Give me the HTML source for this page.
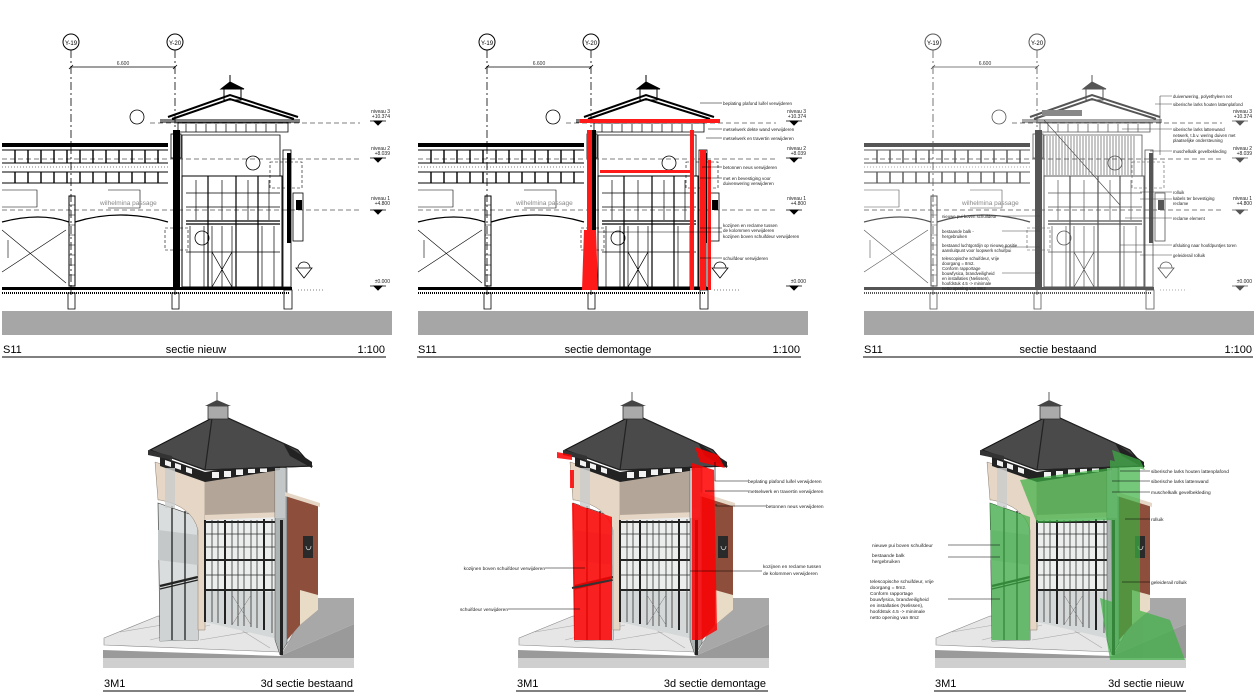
<!DOCTYPE html>
<html><head><meta charset="utf-8"><style>
html,body{margin:0;padding:0;background:#fff}
svg{display:block}
text{font-family:"Liberation Sans",sans-serif}
</style></head><body>
<svg width="1256" height="695" viewBox="0 0 1256 695" xmlns="http://www.w3.org/2000/svg">
<defs>
<g id="sec" fill="none" stroke="currentColor">
  <circle cx="71" cy="42" r="8" stroke-width="1"/>
  <circle cx="175" cy="42" r="8" stroke-width="1"/>
  <path d="M71 50V295M175 50V295" stroke-width="0.8" stroke-dasharray="8 3 2 3"/>
  <path d="M71 67H175M69 69L73 65M173 69L177 65" stroke-width="0.8"/>
  <path d="M150 123H360M2 159H360M2 210H360" stroke-width="0.7" stroke-dasharray="5 3" stroke="#555"/>
  <path d="M370 121H386M370 158H386M370 210H386M370 286H386" stroke-width="0.8"/>
  <path d="M374 121L382 121L378 125ZM374 158L382 158L378 162ZM374 210L382 210L378 214ZM374 286L382 286L378 290Z" fill="currentColor"/>
  <rect x="2" y="143" width="166" height="4" fill="currentColor" stroke="none"/>
  <path d="M2 150H168M2 163H168M2 172H168M2 183H168" stroke-width="1"/>
  <path d="M2 167H168" stroke-width="0.6" stroke-dasharray="1 2"/>
  <path d="M15 150V163M28 150V163M41 150V163M54 150V163M67 150V163M80 150V163M93 150V163M106 150V163M119 150V163M132 150V163M145 150V163M158 150V163M15 172V183M28 172V183M41 172V183M54 172V183M67 172V183M80 172V183M93 172V183M106 172V183M119 172V183M132 172V183M145 172V183M158 172V183" stroke-width="1.4"/>
  <rect x="69" y="196" width="6" height="90" stroke-width="1"/>
  <path d="M69 205H75M69 215H75M69 225H75M69 235H75M69 245H75M69 255H75M69 265H75M69 275H75" stroke-width="0.6"/>
  <path d="M2 222Q40 212 69 222M75 222Q120 208 168 222" stroke-width="1.3"/>
  <path d="M2 230L66 283M2 272L66 230M8 240V258M2 190H37V207H2M108 190H140V208H108" stroke-width="0.6"/>
  <rect x="2" y="287" width="290" height="3" fill="currentColor" stroke="none"/>
  <path d="M2 293H290" stroke-width="2" stroke-dasharray="1 1"/>
  <path d="M68 293h7v16h-7zM172 293h7v16h-7zM284 290h8v19h-8z" stroke-width="0.8"/>
  <path d="M298 290H325" stroke-width="0.6" stroke-dasharray="1 2"/>
  <rect x="173" y="130" width="7" height="157" fill="currentColor" stroke="none"/>
  <rect x="171" y="134" width="10" height="24" stroke-width="0.8"/>
  <rect x="283" y="150" width="8" height="137" stroke-width="0.8"/>
  <rect x="287" y="153" width="4" height="90" fill="currentColor" stroke="none"/>
  <path d="M182 135H280V176H182Z" stroke-width="0.8"/>
  <path d="M182 176H282V287H182Z" stroke-width="1"/>
  <path d="M208 176V287M236 176V287M258 176V287M186 224H280M186 221H280" stroke-width="1.2"/>
  <path d="M196 180V220M222 180V220M248 180V220M269 180V220M186 193H280M186 207H280M190 226V287M204 226V287M212 226V287M222 226V287M232 226V287M262 226V287M274 226V287M186 252H280M212 252L232 287M232 252L212 287" stroke-width="0.7"/>
  <path d="M160 120H300M160 122H300" stroke-width="1"/>
  <path d="M178 123H288V132H178Z" stroke-width="0.8"/>
  <path d="M186 124V132M196 124V132M206 124V132M216 124V132M226 124V132M236 124V132M246 124V132M256 124V132M266 124V132M276 124V132" stroke-width="0.7"/>
  <path d="M168 117L230 95L298 117M172 119L230 99L294 119" stroke-width="2"/>
  <rect x="224" y="89" width="17" height="11" stroke-width="1"/>
  <path d="M221 89L230 82L244 89Z" fill="currentColor"/>
  <path d="M230 82V75" stroke-width="1"/>
  <rect x="293" y="193" width="10" height="48" stroke-width="0.8"/>
  <rect x="296" y="200" width="6" height="10" fill="currentColor" stroke="none"/>
  <path d="M270 162H302V188H270Z" stroke-width="0.6" stroke-dasharray="3 2"/>
  <path d="M165 228H188V250H165Z" stroke-width="0.6" stroke-dasharray="3 2"/>
  <circle cx="137" cy="117" r="7" stroke-width="0.8"/>
  <circle cx="253" cy="163" r="7" stroke-width="0.8"/>
  <circle cx="202" cy="238" r="7" stroke-width="0.8"/>
  <path d="M296 268L312 268L304 278Z M298 268A6 6 0 0 1 310 268" stroke-width="0.8"/>
</g>

<g id="bld">
  <polygon points="103,650 280,656 354,624 354,668 103,668" fill="#9a9a9a"/>
  <polygon points="103,658 354,658 354,668 103,668" fill="#cfcfcf"/>
  <polygon points="300,598 354,598 354,624 280,656 290,640" fill="#a8a8a8"/>
  <polygon points="104,638 158,616 300,618 290,640 280,652 104,645" fill="#e6e6e6" stroke="#888" stroke-width="0.6"/>
  <path d="M120 632L180 622M150 640L210 625M230 623L270 648M200 640L260 630" stroke="#aaa" stroke-width="0.6"/>
  <!-- left glass face -->
  <polygon points="158,503 198,517 198,640 160,641" fill="#dadddd" stroke="#333" stroke-width="0.6"/>
  <polygon points="158,530 198,535 198,565 158,560" fill="#c4c8c8"/>
  <polygon points="160,585 198,575 198,640 160,641" fill="#cfd3d3"/>
  <path d="M172 506V640M185 511V640M160 589L198 580" stroke="#222" stroke-width="1.3"/>
  <path d="M160 586L198 577" stroke="#222" stroke-width="2.2"/>
  <!-- beige left wall with arch -->
  <path d="M155 462L205 478L205 630L198 630L198 530Q192 506 160 500L158 500Z" fill="#e5d6c5" stroke="#8a7e70" stroke-width="0.5"/>
  <!-- front upper wall -->
  <polygon points="205,478 280,468 282,518 205,524" fill="#b3a698"/>
  <polygon points="205,515 282,512 282,518 205,523" fill="#e5d6c5"/>
  <!-- front windows -->
  <polygon points="205,520 282,517 282,640 205,622" fill="#eceeee"/>
  <polygon points="205,590 282,592 282,640 205,622" fill="#d5d8d8"/>
  <path d="M205 520V622M225 520V624M264 519V630M282 517V640M205 522H282M205 560H282M205 590H282" stroke="#222" stroke-width="2" fill="none"/>
  <path d="M212 520V622M218 520V623M232 520V625M238 520V626M244 520V626M251 520V627M257 520V628M272 519V633M205 534H282M205 547H282M205 575H282" stroke="#333" stroke-width="0.8" fill="none"/>
  <path d="M232 595L251 625M251 595L232 625" stroke="#777" stroke-width="0.5"/>
  <!-- column -->
  <polygon points="275,466 287,468 287,643 280,655 275,640" fill="#adb2b2" stroke="#444" stroke-width="0.5"/>
  <rect x="280" y="520" width="3" height="135" fill="#222"/>
  <!-- brick side -->
  <polygon points="287,495 318,505 318,610 300,625 287,640" fill="#8d4e3c"/>
  <polygon points="300,590 318,595 318,610 300,625" fill="#e8dcc6"/>
  <polygon points="285,492 320,503 320,507 285,496" fill="#e5d6c5"/>
  <rect x="303" y="536" width="10" height="22" fill="#2a2a2a"/>
  <path d="M306 546a2 3 0 1 0 5 0" stroke="#ddd" stroke-width="0.7" fill="none"/>
  <!-- clerestory -->
  <polygon points="160,456 205,472 280,460 280,470 205,482 160,466" fill="#222"/>
  <path d="M165 460l6 2v5l-6-2zM175 463l6 2v5l-6-2zM186 467l6 2v5l-6-2zM212 472h7v6h-7zM224 471h7v6h-7zM236 469h7v6h-7zM248 467h7v6h-7zM260 466h7v6h-7z" fill="#f2f2f2"/>
  <!-- roof -->
  <polygon points="150,450 212,418 228,418 298,450 312,466 205,470" fill="#4a4a4a" stroke="#111" stroke-width="1"/>
  <path d="M212 418L205 470M228 418L298 450M150 450L205 470L312 466" stroke="#222" stroke-width="1.2" fill="none"/>
  <polygon points="148,450 172,456 172,460 148,455" fill="#333"/>
  <polygon points="283,443 312,462 312,468 290,456" fill="#222"/>
  <rect x="208" y="406" width="20" height="13" fill="#aaa" stroke="#333" stroke-width="0.8"/>
  <polygon points="205,406 217,400 231,406" fill="#444"/>
  <path d="M217 400V392" stroke="#333" stroke-width="0.8"/>
  <rect x="165" y="468" width="10" height="40" fill="#c9cccc" opacity="0.8"/>
  <rect x="275" y="468" width="10" height="50" fill="#c9cccc" opacity="0.8"/>
</g>
</defs>

<use href="#sec" style="color:#000"/>
<g transform="translate(416,0)"><use href="#sec" style="color:#000"/></g>
<g transform="translate(862,0)"><use href="#sec" style="color:#555"/></g>

<rect x="2" y="311" width="390" height="24" fill="#a6a6a6"/>
<rect x="418" y="311" width="390" height="24" fill="#a6a6a6"/>
<rect x="864" y="311" width="390" height="24" fill="#a6a6a6"/>

<g fill="#ff1a1a" stroke="none">
  <rect x="580" y="119" width="140" height="4"/>
  <rect x="587" y="130" width="5" height="160"/>
  <polygon points="584,230 596,230 598,290 582,290"/>
  <rect x="690" y="130" width="4" height="160"/>
  <rect x="700" y="150" width="6" height="140"/>
  <rect x="708" y="160" width="3" height="130"/>
  <rect x="600" y="170" width="90" height="3"/>
</g>
<g stroke="#000" stroke-width="0.5" fill="none">
  <path d="M700 103H722M708 129H722M706 138H722M702 167H722M700 178H722M700 228H722M598 232H722M700 258H722"/>
</g>
<g font-size="4.5" fill="#222">
  <text x="723" y="105">beplating plafond luifel verwijderen</text>
  <text x="723" y="131">metselwerk dekte wand verwijderen</text>
  <text x="723" y="140">metselwerk en travertin verwijderen</text>
  <text x="723" y="169">betonnen neus verwijderen</text>
  <text x="723" y="180">met en bevestiging voor</text>
  <text x="723" y="185">duivenwering verwijderen</text>
  <text x="723" y="227">kozijnen en reclame tussen</text>
  <text x="723" y="232">de kolommen verwijderen</text>
  <text x="723" y="238">kozijnen boven schuifdeur verwijderen</text>
  <text x="723" y="260">schuifdeur verwijderen</text>
</g>

<g stroke="#444" stroke-width="0.6">
  <path d="M1047 136V175M1050 136V175M1053 136V175M1056 136V175M1059 136V175M1062 136V175M1065 136V175M1068 136V175M1071 136V175M1074 136V175M1077 136V175M1080 136V175M1083 136V175M1086 136V175M1089 136V175M1092 136V175M1095 136V175M1098 136V175M1101 136V175M1104 136V175M1107 136V175M1110 136V175M1113 136V175M1116 136V175M1119 136V175M1122 136V175M1125 136V175M1128 136V175M1131 136V175M1134 136V175"/>
  <path d="M1044 120L1120 205M1160 96H1172M1160 96V155M1155 104H1172M1122 129H1172M1150 151H1172M1140 192H1172M1140 199H1172M1125 218H1172M1120 245H1172M1140 255H1172M1002 216H1040M1002 231H1040M1002 247H1040M1002 273H1040"/>
</g>
<rect x="1042" y="110" width="40" height="6" fill="#888"/>
<g font-size="4.3" fill="#222">
  <text x="1173" y="98">duivenwering, polyethyleen net</text>
  <text x="1173" y="106">siberische larks houten lattenplafond</text>
  <text x="1173" y="131">siberische larks lattenwand</text>
  <text x="1173" y="137">netwerk, t.b.v. wering duiven met</text>
  <text x="1173" y="142">plaatselijke ondersteuning</text>
  <text x="1173" y="153">muschelkalk gevelbekleding</text>
  <text x="1173" y="194">rolluik</text>
  <text x="1173" y="200">kabels ter bevestiging</text>
  <text x="1173" y="205">reclame</text>
  <text x="1173" y="220">reclame element</text>
  <text x="1173" y="247">afsluiting naar hoofdpuntjes toren</text>
  <text x="1173" y="257">geleiderail rolluik</text>
  <text x="942" y="218">nieuwe pui boven schuifdeur</text>
  <text x="942" y="233">bestaande balk -</text>
  <text x="942" y="238">hergebruiken</text>
  <text x="942" y="247">bestaand luchtgordijn op nieuwe positie</text>
  <text x="942" y="252">aansluitpunt voor loopwerk schuifpui</text>
  <text x="942" y="260">telescopische schuifdeur, vrije</text>
  <text x="942" y="265">doorgang = 8m2.</text>
  <text x="942" y="270">Conform rapportage</text>
  <text x="942" y="275">bouwfysica, brandveiligheid</text>
  <text x="942" y="280">en installaties (Nelissen),</text>
  <text x="942" y="285">hoofdstuk 4.5 -&gt; minimale</text>
  <text x="942" y="290">netto opening van 8m2</text>
</g>

<g font-size="6" fill="#000" text-anchor="middle">
  <text x="71" y="45">Y-19</text><text x="175" y="45">Y-20</text>
  <text x="487" y="45">Y-19</text><text x="591" y="45">Y-20</text>
  <text x="933" y="45">Y-19</text><text x="1037" y="45">Y-20</text>
</g>
<g font-size="5" fill="#333" text-anchor="middle">
  <text x="123" y="65">6.600</text><text x="539" y="65">6.600</text><text x="985" y="65">6.600</text>
</g>
<g font-size="6.5" fill="#888">
  <text x="100" y="205">wilhelmina passage</text>
  <text x="516" y="205">wilhelmina passage</text>
  <text x="962" y="205">wilhelmina passage</text>
</g>
<g font-size="5" fill="#222" text-anchor="end">
  <text x="390" y="113">niveau 3</text><text x="390" y="118">+10.374</text>
  <text x="390" y="150">niveau 2</text><text x="390" y="155">+8.039</text>
  <text x="390" y="200">niveau 1</text><text x="390" y="205">+4.800</text>
  <text x="390" y="283">±0.000</text>
  <text x="806" y="113">niveau 3</text><text x="806" y="118">+10.374</text>
  <text x="806" y="150">niveau 2</text><text x="806" y="155">+8.039</text>
  <text x="806" y="200">niveau 1</text><text x="806" y="205">+4.800</text>
  <text x="806" y="283">±0.000</text>
  <text x="1252" y="113">niveau 3</text><text x="1252" y="118">+10.374</text>
  <text x="1252" y="150">niveau 2</text><text x="1252" y="155">+8.039</text>
  <text x="1252" y="200">niveau 1</text><text x="1252" y="205">+4.800</text>
  <text x="1252" y="283">±0.000</text>
</g>

<g font-size="11" fill="#000">
  <text x="3" y="353">S11</text><text x="196" y="353" text-anchor="middle">sectie nieuw</text><text x="385" y="353" text-anchor="end">1:100</text>
  <text x="418" y="353">S11</text><text x="608" y="353" text-anchor="middle">sectie demontage</text><text x="800" y="353" text-anchor="end">1:100</text>
  <text x="864" y="353">S11</text><text x="1058" y="353" text-anchor="middle">sectie bestaand</text><text x="1252" y="353" text-anchor="end">1:100</text>
</g>
<path d="M2 357H386M417 357H801M863 357H1253" stroke="#000" stroke-width="1"/>

<use href="#bld"/>
<g transform="translate(415,0)"><use href="#bld"/></g>
<g transform="translate(832,0)"><use href="#bld"/></g>

<g fill="#ff0000" opacity="0.85">
  <polygon points="572,503 612,517 612,640 574,640"/>
  <polygon points="692,463 714,470 717,630 700,640 692,640"/>
  <polygon points="695,447 718,455 725,468 700,462"/>
  <polygon points="557,452 572,455 572,460 557,458"/>
  <rect x="570" y="470" width="4" height="18"/>
</g>
<path d="M572 588L612 580" stroke="#333" stroke-width="2"/>
<g stroke="#000" stroke-width="0.6" fill="none">
  <path d="M715 462V481H748M705 491H748M716 504V506H766M690 571H762M545 568H585M508 609H580"/>
</g>
<g font-size="4.8" fill="#222">
  <text x="748" y="483">beplating plafond luifel verwijderen</text>
  <text x="748" y="493">metselwerk en travertin verwijderen</text>
  <text x="766" y="508">betonnen neus verwijderen</text>
  <text x="763" y="568">kozijnen en reclame tussen</text>
  <text x="763" y="575">de kolommen verwijderen</text>
  <text x="545" y="570" text-anchor="end">kozijnen boven schuifdeur verwijderen</text>
  <text x="508" y="611" text-anchor="end">schuifdeur verwijderen</text>
</g>

<g fill="#3cb043" opacity="0.7">
  <polygon points="990,503 1030,517 1030,640 992,640"/>
  <polygon points="1020,480 1110,468 1112,520 1037,523"/>
  <polygon points="1110,460 1140,468 1140,630 1112,640"/>
  <polygon points="1112,450 1140,460 1145,470 1115,462"/>
  <polygon points="1100,598 1170,620 1185,660 1110,660"/>
</g>
<g stroke="#000" stroke-width="0.6" fill="none">
  <path d="M1120 471H1150M1112 481H1150M1112 492H1150M1125 519H1150M1122 582H1150M948 545H1000M948 557H1000M948 599H1000"/>
</g>
<g font-size="4.8" fill="#222">
  <text x="1151" y="473">siberische larks houten lattenplafond</text>
  <text x="1151" y="483">siberische larks lattenwand</text>
  <text x="1151" y="494">muschelkalk gevelbekleding</text>
  <text x="1151" y="521">rolluik</text>
  <text x="1151" y="584">geleiderail rolluik</text>
  <text x="872" y="547">nieuwe pui boven schuifdeur</text>
  <text x="872" y="557">bestaande balk</text>
  <text x="872" y="563">hergebruiken</text>
  <text x="870" y="583">telescopische schuifdeur, vrije</text>
  <text x="870" y="589">doorgang = 9m2.</text>
  <text x="870" y="595">Conform rapportage</text>
  <text x="870" y="601">bouwfysica, brandveiligheid</text>
  <text x="870" y="607">en installaties (Nelissen),</text>
  <text x="870" y="613">hoofdstuk 4.5 -&gt; minimale</text>
  <text x="870" y="619">netto opening van 8m2</text>
</g>

<g font-size="11" fill="#000">
  <text x="104" y="687">3M1</text><text x="353" y="687" text-anchor="end">3d sectie bestaand</text>
  <text x="517" y="687">3M1</text><text x="766" y="687" text-anchor="end">3d sectie demontage</text>
  <text x="935" y="687">3M1</text><text x="1184" y="687" text-anchor="end">3d sectie nieuw</text>
</g>
<path d="M103 691H354M516 691H768M934 691H1186" stroke="#000" stroke-width="1"/>
</svg>
</body></html>
